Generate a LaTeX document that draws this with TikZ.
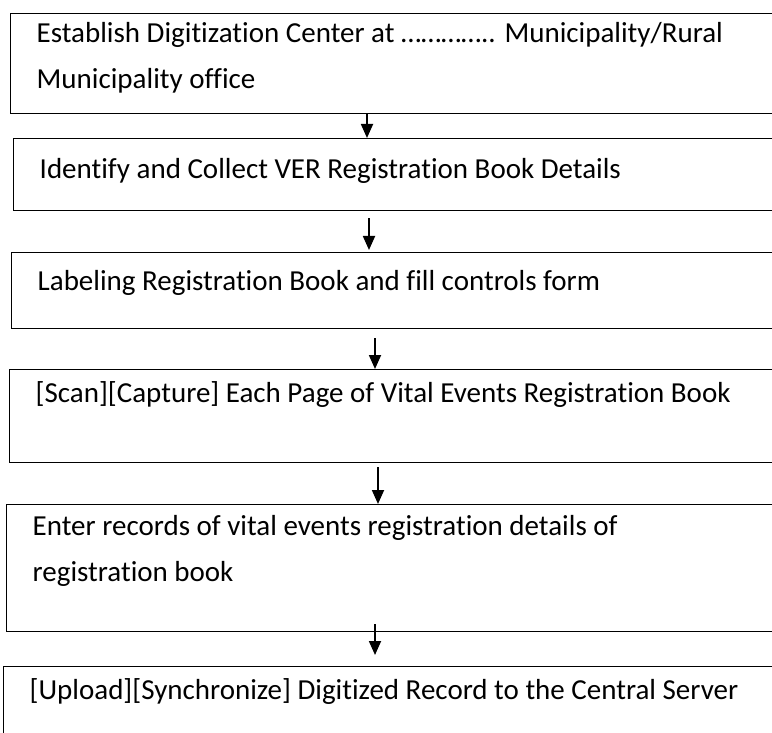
\documentclass[tikz,border=0pt]{standalone}
\usepackage{fontspec}
\setmainfont{Carlito}[Ligatures={NoCommon}]
\usetikzlibrary{arrows.meta}
\tikzset{
    step-box/.style = {draw=black, line width=1.4pt, rectangle, anchor=north west, inner xsep=26pt, inner ysep=0pt, font=\fontsize{29}{46}\selectfont},
    step-arrow/.style = {-{Triangle[length=14pt,width=12pt]}, line width=1.8pt},
}

\begin{document}
\begin{tikzpicture}[x=1pt,y=1pt]
\useasboundingbox (0,0) rectangle (772,-733);
\clip (0,0) rectangle (772,-733);
\node [step-box] (establish) at (10,-13) {\begin{minipage}[t][100pt][t]{760pt}
    \rule{0pt}{29pt}Establish Digitization Center at ………….. Municipality/Rural\\
    Municipality office
\end{minipage}};
\node [step-box] (identify) at (13,-138) {\begin{minipage}[t][72pt][t]{760pt}
    \rule{0pt}{40pt}Identify and Collect VER Registration Book Details
\end{minipage}};
\node [step-box] (labeling) at (11,-252) {\begin{minipage}[t][76pt][t]{760pt}
    \rule{0pt}{38pt}Labeling Registration Book and fill controls form
\end{minipage}};
\node [step-box] (scan) at (9,-369) {\begin{minipage}[t][93pt][t]{760pt}
    \rule{0pt}{33pt}[Scan][Capture] Each Page of Vital Events Registration Book
\end{minipage}};
\node [step-box] (enter) at (6,-504) {\begin{minipage}[t][127pt][t]{760pt}
    \rule{0pt}{31pt}Enter records of vital events registration details of\\
    registration book
\end{minipage}};
\node [step-box] (upload) at (3,-666) {\begin{minipage}[t][100pt][t]{760pt}
    \rule{0pt}{33pt}[Upload][Synchronize] Digitized Record to the Central Server
\end{minipage}};
% arrows between the steps
\draw [step-arrow] (367,0 |- establish.south) -- (367,0 |- identify.north);
\draw [step-arrow] ([yshift=-7pt]369,0 |- identify.south) -- ([yshift=2pt]369,0 |- labeling.north);
\draw [step-arrow] ([yshift=-9pt]375,0 |- labeling.south) -- (375,0 |- scan.north);
\draw [step-arrow] ([yshift=-4pt]378,0 |- scan.south) -- (378,0 |- enter.north);
\draw [step-arrow] ([yshift=8pt]375,0 |- enter.south) -- ([yshift=11pt]375,0 |- upload.north);
\end{tikzpicture}
\end{document}
